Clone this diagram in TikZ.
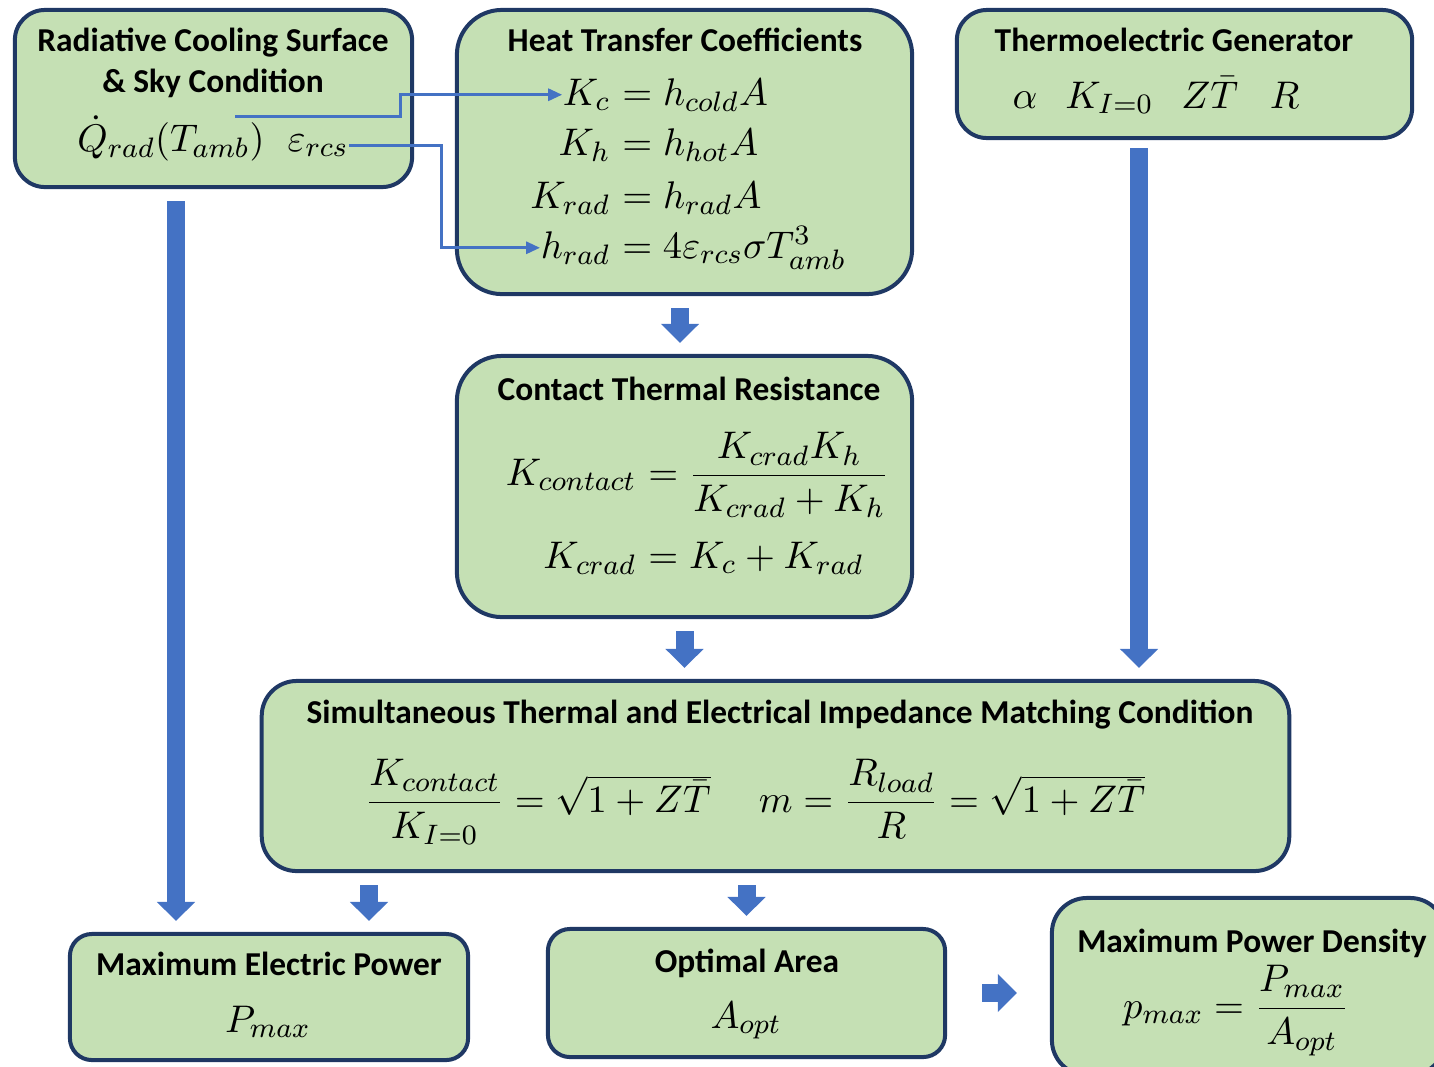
\documentclass[tikz,border=0pt]{standalone}
\usepackage{amsmath}
\usepackage[no-math]{fontspec}
\setmainfont{Carlito}
\usetikzlibrary{arrows.meta,positioning}
\definecolor{boxgreen}{HTML}{C5E0B4}
\definecolor{boxedge}{HTML}{1F3864}
\definecolor{flowblue}{HTML}{4472C4}

\begin{document}
\begin{tikzpicture}[x=0.01cm, y=-0.01cm,
  box/.style={draw=boxedge, fill=boxgreen, line width=0.04cm, rounded corners=0.3cm},
  ttl/.style={font=\fontsize{9.5}{11.7}\selectfont\bfseries, anchor=base, inner sep=0pt, align=center},
  mth/.style={font=\fontsize{11}{13}\selectfont, anchor=base, inner sep=0pt},
  lhs/.style={mth, anchor=base east},
  rhs/.style={mth, anchor=base west},
  link/.style={flowblue, line width=0.03cm, -{Triangle[length=0.14cm,width=0.12cm]}},
  fat/.style={flowblue, line width=0.18cm, -{Triangle[length=0.19cm,width=0.37cm]}, shorten <=0.12cm, shorten >=0.11cm}
]
\useasboundingbox (0,0) rectangle (1434,1066);
\clip (0,0) rectangle (1434,1066);

% boxes
\node[box, minimum width=3.97cm, minimum height=1.77cm] (rcs) at (213.5,98.5) {};
\node[box, rounded corners=0.45cm, minimum width=4.55cm, minimum height=2.84cm] (heat) at (684.5,152) {};
\node[box, minimum width=4.55cm, minimum height=1.28cm] (teg) at (1184.5,74) {};
\node[box, rounded corners=0.45cm, minimum width=4.55cm, minimum height=2.61cm] (con) at (684.5,486.5) {};
\node[box, rounded corners=0.35cm, minimum width=10.27cm, minimum height=1.90cm] (match) at (775.5,776) {};
\node[box, rounded corners=0.22cm, minimum width=3.98cm, minimum height=1.26cm] (elec) at (269,997) {};
\node[box, rounded corners=0.22cm, minimum width=3.97cm, minimum height=1.28cm] (opt) at (746.5,993) {};
\node[box, rounded corners=0.35cm, minimum width=3.93cm, minimum height=1.77cm] (dens) at (1248.5,986.5) {};

% titles
\node[ttl, anchor=center] (rcsT) at (213,63) {Radiative Cooling Surface\\\& Sky Condition};
\node[ttl] (heatT) at (685,51) {Heat Transfer Coefficients};
\node[ttl] (tegT) at (1174,51) {Thermoelectric Generator};
\node[ttl] (conT) at (689,400) {Contact Thermal Resistance};
\node[ttl] (matchT) at (780,723) {Simultaneous Thermal and Electrical Impedance Matching Condition};
\node[ttl] (elecT) at (269,975) {Maximum Electric Power};
\node[ttl] (optT) at (747,972) {Optimal Area};
\node[ttl] (densT) at (1252,952) {Maximum Power Density};

% sky condition
\node[mth] (qrad) at (171,151) {$\dot{Q}_{rad}(T_{amb})$};
\node[mth, anchor=base west] (eps) at (287,151) {$\varepsilon_{rcs}$};

% heat transfer coefficients
\node[lhs] (kcL) at (611,105) {$K_c$};
\node[rhs] (kcR) at (611,105) {${}=h_{cold}A$};
\node[lhs] (khL) at (611,155) {$K_h$};
\node[rhs] (khR) at (611,155) {${}=h_{hot}A$};
\node[lhs] (kradL) at (611,208) {$K_{rad}$};
\node[rhs] (kradR) at (611,208) {${}=h_{rad}A$};
\node[lhs] (hradL) at (611,258) {$h_{rad}$};
\node[rhs] (hradR) at (611,258) {${}=4\varepsilon_{rcs}\sigma T_{amb}^3$};

% TEG
\node[mth] (tegM) at (1156,108) {$\alpha\hspace{8pt}K_{I=0}\hspace{8pt}Z\bar{T}\hspace{9pt}R$};

% contact resistance
\node[lhs] (kconL) at (637,485) {$K_{contact}$};
\node[rhs] (kconR) at (637,485) {${}=\dfrac{K_{crad}K_h}{K_{crad}+K_h}$};
\node[lhs] (kcradL) at (637,568) {$K_{crad}$};
\node[rhs] (kcradR) at (637,568) {${}=K_c+K_{rad}$};

% matching condition
\node[mth] (matchL) at (538,812) {$\dfrac{K_{contact}}{K_{I=0}}=\sqrt{1+Z\bar{T}}$};
\node[mth] (matchR) at (952,812) {$m=\dfrac{R_{load}}{R}=\sqrt{1+Z\bar{T}}$};

% results
\node[mth] (pmax) at (268,1032) {$P_{max}$};
\node[mth] (aopt) at (746,1028) {$A_{opt}$};
\node[mth] (pdens) at (1236,1018) {$p_{max}=\dfrac{P_{max}}{A_{opt}}$};

% thin links
\coordinate (qsrc) at (235,116);
\coordinate (bendA) at (400,100);
\coordinate (bendB) at (441,200);
\draw[link] (qsrc) -| (bendA) |- (kcL.west);
\draw[link] (eps.east) -| (bendB) |- (hradL.west);

% block arrows
\coordinate (colA) at (176,0);
\coordinate (colT) at (1139,0);
\coordinate (colE) at (369,0);
\draw[fat] (rcs.south -| colA) -- (elec.north -| colA);
\draw[fat] ([xshift=-0.045cm]heat.south) -- ([xshift=-0.045cm]con.north);
\draw[fat] (con.south) -- (con.south |- match.north);
\draw[fat, shorten <=0.08cm] (teg.south -| colT) -- (match.north -| colT);
\draw[fat] (match.south -| colE) -- (elec.north -| colE);
\draw[fat] (match.south -| opt) -- (opt.north);
\draw[fat, shorten <=0.35cm, shorten >=0.33cm] (opt.east) -- (opt.east -| dens.west);
\end{tikzpicture}
\end{document}
